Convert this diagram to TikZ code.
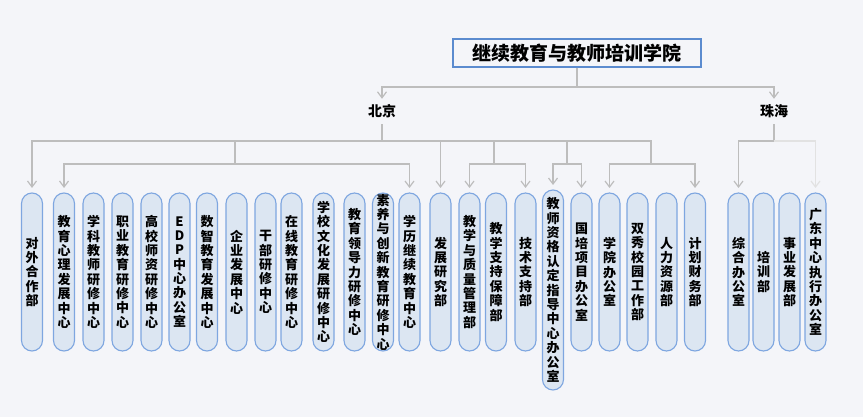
\documentclass[tikz,border=0pt]{standalone}
\usepackage{fontspec}
\usetikzlibrary{arrows.meta}
\newfontfamily\cjk{Noto Sans CJK SC}

\definecolor{bgcol}{HTML}{F4F5F9}
\definecolor{pillfill}{HTML}{DCE6F2}
\definecolor{pillline}{HTML}{7EA6E0}
\definecolor{titleline}{HTML}{5B8BCF}
\definecolor{linegray}{HTML}{BDBDBD}
\definecolor{lightline}{HTML}{E2E2E2}

% one character per line
\makeatletter
\newcommand\vtxt[1]{\parindent=0pt\@tfor\vch:=#1\do{\vch\par}}
\makeatother

\tikzset{
  pill/.style={draw=pillline, fill=pillfill, line width=1.1pt, rounded corners=10.5pt,
    minimum width=21pt, minimum height=158pt, text width=21pt, align=center,
    inner sep=0pt, outer ysep=5pt, font=\cjk\bfseries\fontsize{13}{14.4}\selectfont},
  titlebox/.style={draw=titleline, line width=1.1pt, minimum width=248pt, minimum height=28pt,
    inner sep=0pt, font=\cjk\bfseries\fontsize{19}{22}\selectfont},
  city/.style={minimum height=25pt, inner sep=0pt, font=\cjk\bfseries\fontsize{14}{16}\selectfont},
  conn/.style={draw=linegray, line width=1.2pt},
  arr/.style={conn, -{Straight Barb[length=6pt,width=9pt]}}
}

\begin{document}
\begin{tikzpicture}[x=1pt, y=-1pt]
        \fill[bgcol] (0,0) rectangle (863,417);

        % Top
        \node[titlebox] (title) at (577,53) {继续教育与教师培训学院};
        \node[city] (bj) at (382,111.5) {北京};
        \node[city] (zh) at (774,111.5) {珠海};

        % Beijing
        \node[pill] (dwhz) at (32,272) {\vtxt{对外合作部}};
        \node[pill] (jyxl) at (64,272) {\vtxt{教育心理发展中心}};
        \node[pill] (xkjs) at (93.5,272) {\vtxt{学科教师研修中心}};
        \node[pill] (zyjy) at (122.5,272) {\vtxt{职业教育研修中心}};
        \node[pill] (gxsz) at (151.5,272) {\vtxt{高校师资研修中心}};
        \node[pill] (edp) at (179.5,272) {\vtxt{EDP中心办公室}};
        \node[pill] (szjy) at (207,272) {\vtxt{数智教育发展中心}};
        \node[pill] (qyfz) at (236.5,272) {\vtxt{企业发展中心}};
        \node[pill] (gbyx) at (265.5,272) {\vtxt{干部研修中心}};
        \node[pill] (zxjy) at (291.5,272) {\vtxt{在线教育研修中心}};
        \node[pill] (xxwh) at (323.5,272) {\vtxt{学校文化发展研修中心}};
        \node[pill] (jyld) at (354.5,272) {\vtxt{教育领导力研修中心}};
        \node[pill] (syex) at (383,272) {\vtxt{素养与创新教育研修中心}};
        \node[pill] (xljx) at (409.5,272) {\vtxt{学历继续教育中心}};
        \node[pill] (fzyj) at (440.5,272) {\vtxt{发展研究部}};
        \node[pill] (jxzl) at (469.5,272) {\vtxt{教学与质量管理部}};
        \node[pill] (jxzc) at (496,272) {\vtxt{教学支持保障部}};
        \node[pill] (jszc) at (525.5,272) {\vtxt{技术支持部}};
        \node[pill, minimum height=200pt] (jszg) at (553,290) {\vtxt{教师资格认定指导中心办公室}};
        \node[pill] (gpxm) at (581.5,272) {\vtxt{国培项目办公室}};
        \node[pill] (xybg) at (609.5,272) {\vtxt{学院办公室}};
        \node[pill] (sxxy) at (637.5,272) {\vtxt{双秀校园工作部}};
        \node[pill] (rlzy) at (666.5,272) {\vtxt{人力资源部}};
        \node[pill] (jhcw) at (695,272) {\vtxt{计划财务部}};

        % Zhuhai
        \node[pill] (zhbg) at (738.5,272) {\vtxt{综合办公室}};
        \node[pill] (pxb) at (763.5,272) {\vtxt{培训部}};
        \node[pill] (syfz) at (789.5,272) {\vtxt{事业发展部}};
        \node[pill] (gdzx) at (815.5,272) {\vtxt{广东中心执行办公室}};

        % Connectors
        \coordinate (tbus) at (577,87);
        \draw[conn] (title) -- (tbus);
        \draw[arr] (tbus) -| (bj);
        \draw[arr] (tbus) -| (zh);

        \coordinate (bjbus) at (382,141);
        \coordinate (bj1) at (235,164);
        \coordinate (bj2) at (494,164);
        \coordinate (bj3) at (567,164);
        \coordinate (bj4) at (651,164);
        \draw[conn] (bj) -- (bjbus);
        \draw[arr] (bjbus) -| (dwhz);
        \draw[conn] (bjbus) -| (bj1);
        \draw[arr] (bj1) -| (jyxl);
        \draw[arr] (bj1) -| (xljx);
        \draw[arr] (bjbus) -| (fzyj);
        \draw[conn] (bjbus) -| (bj2);
        \draw[arr] (bj2) -| (jxzl);
        \draw[arr] (bj2) -| (jszc);
        \draw[conn] (bjbus) -| (bj3);
        \draw[arr] (bj3) -| (jszg);
        \draw[arr] (bj3) -| (gpxm);
        \draw[conn] (bjbus) -| (bj4);
        \draw[arr] (bj4) -| (xybg);
        \draw[arr] (bj4) -| (jhcw);

        \coordinate (zhbus) at (774,141);
        \draw[conn] (zh) -- (zhbus);
        \draw[arr] (zhbus) -| (zhbg);
        \draw[arr, draw=lightline] (zhbus) -| (gdzx);
    \end{tikzpicture}
\end{document}
